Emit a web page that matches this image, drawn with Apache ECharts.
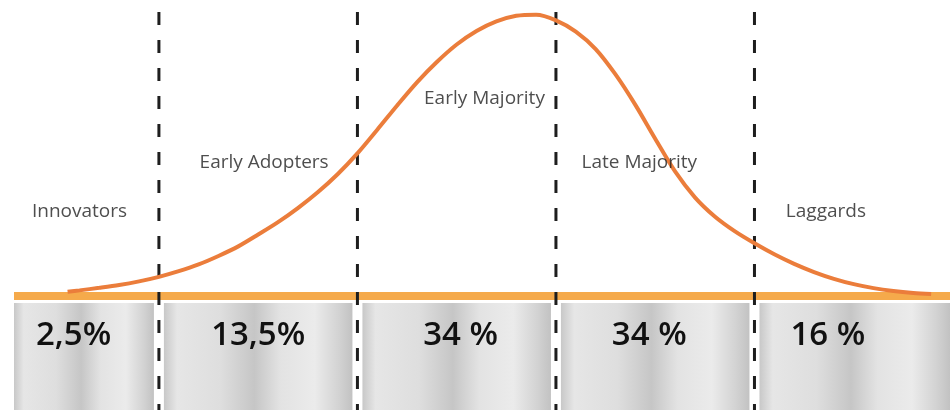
<!DOCTYPE html>
<html>
<head>
<meta charset="utf-8">
<script src="https://cdn.jsdelivr.net/npm/echarts@6/dist/echarts.min.js"></script>
<style>
  html, body { margin: 0; padding: 0; background: #fff; }
  #chart { width: 950px; height: 410px; }
</style>
</head>
<body>
<div id="chart"></div>
<script>
// x in standard deviations from the mean, y in % of the peak
const xMin = -2.73;
const xMax = 1.985;
const boundaries = [-2, -1, 0, 1];

const curveX = [-2.46, -2.4, -2.3, -2.2, -2.1, -2.0, -1.9, -1.8, -1.7, -1.6, -1.5, -1.4, -1.3,
  -1.2, -1.1, -1.0, -0.9, -0.8, -0.7, -0.6, -0.5, -0.4, -0.3, -0.2, -0.1, 0.0, 0.1, 0.2,
  0.3, 0.4, 0.5, 0.6, 0.7, 0.8, 0.9, 1.0, 1.1, 1.2, 1.3, 1.4, 1.5, 1.6, 1.7, 1.8, 1.89];
const curveY = [1.5, 2.0, 2.9, 3.9, 5.2, 6.8, 8.8, 11.2, 14.2, 17.6, 21.8, 26.2, 31.2,
  36.8, 43.2, 50.6, 59.0, 67.6, 75.8, 83.0, 89.2, 94.0, 97.4, 99.4, 99.8, 97.8, 93.8, 87.6,
  78.6, 67.8, 55.8, 44.2, 35.0, 28.2, 23.0, 18.7, 14.8, 11.4, 8.5, 6.1, 4.2, 2.8, 1.8, 1.1, 0.7];

const stages = ["Innovators", "Early Adopters", "Early Majority", "Late Majority", "Laggards"];
const stageLabelX = [-2.40, -1.47, -0.36, 0.42, 1.36];
const stageLabelY = [29.8, 47.2, 69.9, 47.2, 29.8];

const shares = ["2,5%", "13,5%", "34 %", "34 %", "16 %"];
const shareLabelX = [-2.43, -1.50, -0.48, 0.47, 1.37];

const edges = [xMin].concat(boundaries, [xMax]);
const segments = shares.map((s, i) => [edges[i], edges[i + 1], shareLabelX[i], i]);

const chart = echarts.init(document.getElementById("chart"));

const metal = new echarts.graphic.LinearGradient(0, 0, 1, 0, [
  { offset: 0, color: "#c8c8c8" },
  { offset: 0.07, color: "#e6e6e6" },
  { offset: 0.3, color: "#dedede" },
  { offset: 0.48, color: "#c6c6c6" },
  { offset: 0.62, color: "#e3e3e3" },
  { offset: 0.8, color: "#ebebeb" },
  { offset: 0.93, color: "#d2d2d2" },
  { offset: 1, color: "#c2c2c2" },
]);

const hiddenX = (idx) => ({
  type: "value",
  gridIndex: idx,
  min: xMin,
  max: xMax,
  axisLine: { show: false },
  axisTick: { show: false },
  axisLabel: { show: false },
  splitLine: { show: false },
});

chart.setOption({
  backgroundColor: "#ffffff",
  animation: false,
  grid: [
    { left: 14, right: 0, top: 0, height: 296 },
    { left: 14, right: 0, top: 303, bottom: 0 },
    { left: 14, right: 0, top: 0, bottom: 0 },
  ],
  xAxis: [
    Object.assign(hiddenX(0), {
      axisLine: { show: true, lineStyle: { color: "#f5aa4b", width: 8, cap: "butt" } },
    }),
    hiddenX(1),
    hiddenX(2),
  ],
  yAxis: [
    { type: "value", gridIndex: 0, min: 0, max: 105, show: false },
    { type: "value", gridIndex: 1, min: 0, max: 1, show: false },
    { type: "value", gridIndex: 2, min: 0, max: 410, inverse: true, show: false },
  ],
  series: [
    {
      // grey boxes with the shares
      type: "custom",
      xAxisIndex: 1,
      yAxisIndex: 1,
      z: 1,
      silent: true,
      data: segments,
      encode: { x: [0, 1] },
      renderItem: function (params, api) {
        const cs = params.coordSys;
        const i = api.value(3);
        let x0 = api.coord([api.value(0), 0])[0];
        let x1 = api.coord([api.value(1), 0])[0];
        if (i > 0) x0 += 5;
        if (i < shares.length - 1) x1 -= 5;
        const tx = api.coord([api.value(2), 0])[0];
        return {
          type: "group",
          children: [
            {
              type: "rect",
              shape: { x: x0, y: cs.y, width: x1 - x0, height: cs.height },
              style: { fill: metal },
            },
            {
              type: "text",
              style: {
                text: shares[i],
                x: tx,
                y: cs.y + 33,
                align: "center",
                verticalAlign: "middle",
                font: "600 33px 'Open Sans', sans-serif",
                fill: "#111",
              },
            },
          ],
        };
      },
    },
    {
      // dashed separators
      type: "custom",
      xAxisIndex: 2,
      yAxisIndex: 2,
      z: 2,
      silent: true,
      data: boundaries.map((b) => [b]),
      encode: { x: 0 },
      renderItem: function (params, api) {
        const top = api.coord([api.value(0), 12]);
        const bottom = api.coord([api.value(0), 410]);
        return {
          type: "line",
          shape: { x1: top[0], y1: top[1], x2: bottom[0], y2: bottom[1] },
          style: { stroke: "#1e1e1e", lineWidth: 3, lineDash: [13, 15] },
        };
      },
    },
    {
      type: "line",
      xAxisIndex: 0,
      yAxisIndex: 0,
      z: 3,
      smooth: 0.3,
      clip: false,
      showSymbol: false,
      silent: true,
      lineStyle: { color: "#eb7d3b", width: 4 },
      data: curveX.map((x, i) => [x, curveY[i]]),
    },
    {
      type: "scatter",
      xAxisIndex: 0,
      yAxisIndex: 0,
      z: 4,
      silent: true,
      symbolSize: 1,
      itemStyle: { color: "rgba(0,0,0,0)" },
      label: {
        show: true,
        position: "inside",
        formatter: (p) => p.name,
        color: "#222",
        fontFamily: "Open Sans",
        fontSize: 19,
      },
      data: stages.map((s, i) => ({ name: s, value: [stageLabelX[i], stageLabelY[i]] })),
    },
  ],
});
</script>
</body>
</html>
